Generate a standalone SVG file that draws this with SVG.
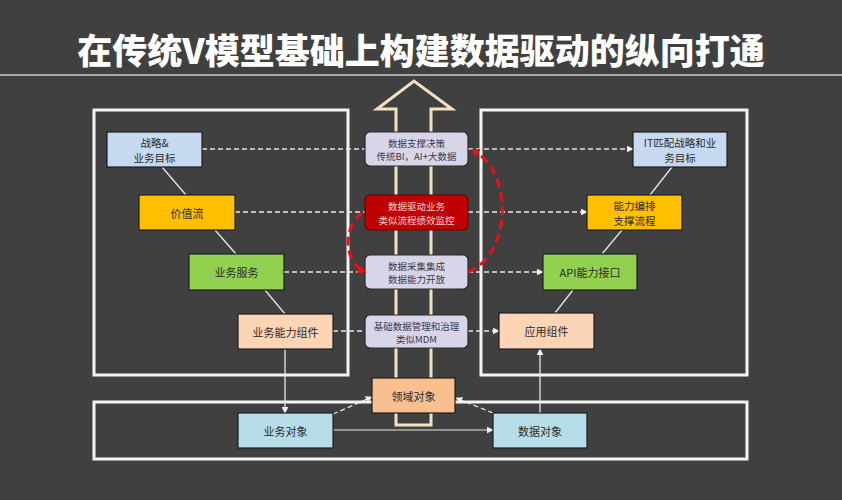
<svg xmlns="http://www.w3.org/2000/svg" width="842" height="500" viewBox="0 0 842 500">
<defs>
<style>
text{font-family:"Noto Sans CJK SC","Noto Sans",sans-serif;text-anchor:middle;dominant-baseline:central;}
.n{stroke:#1e1e1e;stroke-width:1.2;}
.t{font-size:11px;fill:#2b2b2b;}
.t2{font-size:10.5px;fill:#2b2b2b;}
.c{font-size:9.5px;fill:#3a3a4a;}
.frame{fill:none;stroke:#f4f4f4;stroke-width:3;}
.solid{fill:none;stroke:#e6e6e6;stroke-width:1.3;}
.dash{fill:none;stroke:#e6e6e6;stroke-width:1.3;stroke-dasharray:5 3;}
.red{fill:none;stroke:#e8101c;stroke-width:3;stroke-dasharray:9 5;}
.lav{fill:#d8d5e8;stroke:#2a2a2a;stroke-width:1.2;}
</style>
<marker id="aw" viewBox="0 0 10 10" refX="9" refY="5" markerWidth="7" markerHeight="7" markerUnits="userSpaceOnUse" orient="auto"><path d="M0,0 L10,5 L0,10 Z" fill="#f0f0f0"/></marker>
<marker id="ar" viewBox="0 0 10 10" refX="8" refY="5" markerWidth="9" markerHeight="9" markerUnits="userSpaceOnUse" orient="auto"><path d="M0,0 L10,5 L0,10 Z" fill="#e8101c"/></marker>
</defs>
<rect x="0" y="0" width="842" height="500" fill="#404040"/>
<text x="421" y="48" style="font-size:35px;font-weight:900;fill:#ffffff;">在传统V模型基础上构建数据驱动的纵向打通</text>
<line x1="0" y1="75" x2="842" y2="75" stroke="#a8a8a8" stroke-width="2"/>

<g id="frames">
<rect class="frame" x="94" y="110" width="254" height="265"/>
<rect class="frame" x="481" y="110" width="266" height="265"/>
<rect class="frame" x="94" y="402" width="653" height="57"/>
</g>

<g id="big-arrow">
<path d="M396,425 L396,109 L377,109 L414,81 L452,109 L431,109 L431,425 Z" fill="none" stroke="#f2e2c4" stroke-width="3" stroke-linejoin="miter"/>
</g>

<g id="connectors">
<line class="solid" x1="162" y1="167" x2="186" y2="195"/>
<line class="solid" x1="215" y1="230" x2="236" y2="254"/>
<line class="solid" x1="265" y1="290" x2="285" y2="314"/>
<line class="solid" x1="672" y1="167" x2="650" y2="195"/>
<line class="solid" x1="622" y1="230" x2="602" y2="254"/>
<line class="solid" x1="573" y1="290" x2="555" y2="313"/>
<line class="dash" x1="202" y1="149" x2="365" y2="149"/>
<line class="dash" x1="235" y1="212" x2="365" y2="212"/>
<line class="dash" x1="284" y1="272" x2="365" y2="272"/>
<line class="dash" x1="333" y1="331" x2="365" y2="331"/>
<line class="dash" x1="468" y1="149" x2="633" y2="149" marker-end="url(#aw)"/>
<line class="dash" x1="468" y1="212" x2="587" y2="212" marker-end="url(#aw)"/>
<line class="dash" x1="468" y1="272" x2="543" y2="272" marker-end="url(#aw)"/>
<line class="dash" x1="468" y1="331" x2="499" y2="331" marker-end="url(#aw)"/>
<line class="solid" x1="285" y1="349" x2="285" y2="413" marker-end="url(#aw)"/>
<line class="solid" x1="540" y1="413" x2="540" y2="349" marker-end="url(#aw)"/>
<line x1="333" y1="430" x2="493" y2="430" stroke="#b0b0b0" stroke-width="1.5" marker-end="url(#aw)"/>
<line class="dash" x1="333" y1="414" x2="372" y2="397" marker-end="url(#aw)"/>
<line class="dash" x1="493" y1="413" x2="456" y2="398" marker-end="url(#aw)"/>
</g>

<g id="n-strategy"><rect class="n" x="107" y="132" width="95" height="35" fill="#c6d9f1"/><text class="t2" x="154.5" y="142.5">战略&amp;</text><text class="t2" x="154.5" y="157">业务目标</text></g>
<g id="n-value"><rect class="n" x="139" y="195" width="96" height="35" fill="#ffc000"/><text class="t" x="187" y="212.5">价值流</text></g>
<g id="n-service"><rect class="n" x="189" y="254" width="95" height="36" fill="#92d050"/><text class="t" x="236.5" y="272">业务服务</text></g>
<g id="n-capability"><rect class="n" x="238" y="314" width="95" height="35" fill="#fbd5b5"/><text class="t" x="285.5" y="331.5">业务能力组件</text></g>

<g id="n-it"><rect class="n" x="633" y="132" width="94" height="35" fill="#c6d9f1"/><text class="t2" x="680" y="142.5">IT匹配战略和业</text><text class="t2" x="680" y="157">务目标</text></g>
<g id="n-orch"><rect class="n" x="587" y="195" width="95" height="35" fill="#ffc000"/><text class="t2" x="634.5" y="205.5">能力编排</text><text class="t2" x="634.5" y="220">支撑流程</text></g>
<g id="n-api"><rect class="n" x="543" y="254" width="94" height="36" fill="#92d050"/><text class="t" x="590" y="272">API能力接口</text></g>
<g id="n-app"><rect class="n" x="499" y="313" width="95" height="36" fill="#fbd5b5"/><text class="t" x="546.5" y="331">应用组件</text></g>

<g id="c-decision"><rect class="lav" x="365" y="132" width="103" height="34" rx="5"/><text class="c" x="416.5" y="142.5">数据支撑决策</text><text class="c" x="416.5" y="156">传统BI，AI+大数据</text></g>
<g id="c-drive"><rect x="365" y="195" width="103" height="35" rx="5" fill="#c00000" stroke="#6a0000" stroke-width="1.2"/><text class="c" x="416.5" y="205.5" style="fill:#f6d6d6">数据驱动业务</text><text class="c" x="416.5" y="219.5" style="fill:#f6d6d6">类似流程绩效监控</text></g>
<g id="c-collect"><rect class="lav" x="365" y="255" width="103" height="34" rx="5"/><text class="c" x="416.5" y="265.5">数据采集集成</text><text class="c" x="416.5" y="279">数据能力开放</text></g>
<g id="c-mdm"><rect class="lav" x="365" y="315" width="103" height="33" rx="5"/><text class="c" x="416.5" y="325.5">基础数据管理和治理</text><text class="c" x="416.5" y="339">类似MDM</text></g>

<g id="loop">
<path class="red" d="M468,272 C512,255 514,170 472,150" marker-end="url(#ar)"/>
<path class="red" d="M362,213 C343,226 343,262 365,272" marker-end="url(#ar)"/>
</g>

<g id="n-domain"><rect class="n" x="372" y="378" width="83" height="35" fill="#f9bf8f"/><text class="t" x="413.5" y="395.5">领域对象</text></g>
<g id="n-bizobj"><rect class="n" x="238" y="413" width="95" height="35" fill="#b7dde8"/><text class="t" x="285.5" y="430.5">业务对象</text></g>
<g id="n-dataobj"><rect class="n" x="493" y="413" width="94" height="35" fill="#b7dde8"/><text class="t" x="540" y="430.5">数据对象</text></g>
</svg>
